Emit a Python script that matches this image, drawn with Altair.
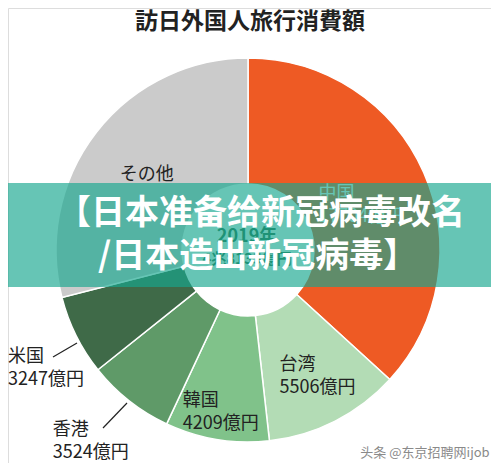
import altair as alt
import pandas as pd

countries = ["中国", "台湾", "韓国", "香港", "米国", "その他"]
values = [17704, 5506, 4209, 3524, 3247, 13945]
amount_labels = ["17704億円", "5506億円", "4209億円", "3524億円", "3247億円", ""]
colors = ["#ee5a24", "#b3dcb5", "#80c28a", "#5f9a68", "#3f6a48", "#cbcbcb"]

title_text = "訪日外国人旅行消費額"
center_lines = ["2019年", "4兆8135億円"]
banner_lines = ["【日本准备给新冠病毒改名", "/日本造出新冠病毒】"]
watermark = "头条 @东京招聘网ijob"

df = pd.DataFrame({
    "country": countries,
    "value": values,
    "idx": list(range(len(countries))),
    "label": [c + ("\n" + a if a else "") for c, a in zip(countries, amount_labels)],
})

W, H = 483, 455
CX, CY = 240, 242
FONT = "Noto Sans CJK JP"

base = alt.Chart(df)

arcs = base.mark_arc(innerRadius=66, outerRadius=192, stroke="white", strokeWidth=1.5).encode(
    theta=alt.Theta("value:Q", stack=True),
    order=alt.Order("idx:Q"),
    color=alt.Color("country:N", scale=alt.Scale(domain=countries, range=colors), legend=None),
    x=alt.value(CX),
    y=alt.value(CY),
)

lab_base = base.transform_joinaggregate(total="sum(value)").transform_window(
    cum="sum(value)", sort=[alt.SortField("idx")], frame=[None, 0]
).transform_calculate(
    mid="2*PI*(datum.cum - datum.value/2)/datum.total"
)

# (country, radius, dx, dy, color)
label_pos = [
    ("中国", 113, -33, -10, "white"),
    ("台湾", 140, -32, -10, "#222222"),
    ("韓国", 162, -39, -9, "#222222"),
    ("香港", 241, -46, -9, "#222222"),
    ("米国", 258, -9, -8, "#222222"),
    ("その他", 122, -32, 0, "#222222"),
]
labels = []
for name, r, dx, dy, col in label_pos:
    labels.append(
        lab_base.transform_filter(alt.datum.country == name).mark_text(
            radius=r, dx=dx, dy=dy, align="left", baseline="middle", lineBreak="\n",
            fontSize=18, lineHeight=23, font=FONT, color=col,
        ).encode(
            theta=alt.Theta("mid:Q", scale=None),
            text=alt.Text("label:N"),
            x=alt.value(CX),
            y=alt.value(CY),
        )
    )

def txt(s, x, y, size, color, weight="normal", align="center", font=FONT, opacity=1.0):
    return alt.Chart(pd.DataFrame({"t": [s]})).mark_text(
        fontSize=size, color=color, fontWeight=weight, align=align, baseline="middle",
        font=font, opacity=opacity,
    ).encode(text="t:N", x=alt.value(x), y=alt.value(y))

center1 = txt(center_lines[0], 239, 229, 18, "#2e6b48", "bold")
center2 = txt(center_lines[1], 239, 251, 15, "#2e6b48", "bold")

lead1 = alt.Chart(pd.DataFrame({"a": [0]})).mark_rule(color="#222222", strokeWidth=1.2).encode(
    x=alt.value(45), x2=alt.value(69), y=alt.value(349), y2=alt.value(335))
lead2 = alt.Chart(pd.DataFrame({"a": [0]})).mark_rule(color="#222222", strokeWidth=1.2).encode(
    x=alt.value(95), x2=alt.value(119), y=alt.value(420), y2=alt.value(395))

title = txt(title_text, 242, 14, 23, "#222222", "bold")
wm = txt(watermark, 417, 445, 13, "#8a8a8a")

banner = alt.Chart(pd.DataFrame({"a": [0]})).mark_rect(color="#17a78e", opacity=0.66).encode(
    x=alt.value(0), x2=alt.value(W), y=alt.value(175), y2=alt.value(279))
b1 = txt(banner_lines[0], 49, 206, 34, "white", "bold", align="left", font="Noto Sans CJK SC")
b2 = txt(banner_lines[1], 90, 249, 34, "white", "bold", align="left", font="Noto Sans CJK SC")

chart = alt.layer(
    arcs, *labels, center1, center2, lead1, lead2, title, wm, banner, b1, b2
).properties(
    width=W, height=H, autosize=alt.AutoSizeParams(type="none"), padding=0
).configure_view(stroke=None).configure(background="white")

chart.save("out.html", embed_options={"renderer": "svg", "actions": False})
